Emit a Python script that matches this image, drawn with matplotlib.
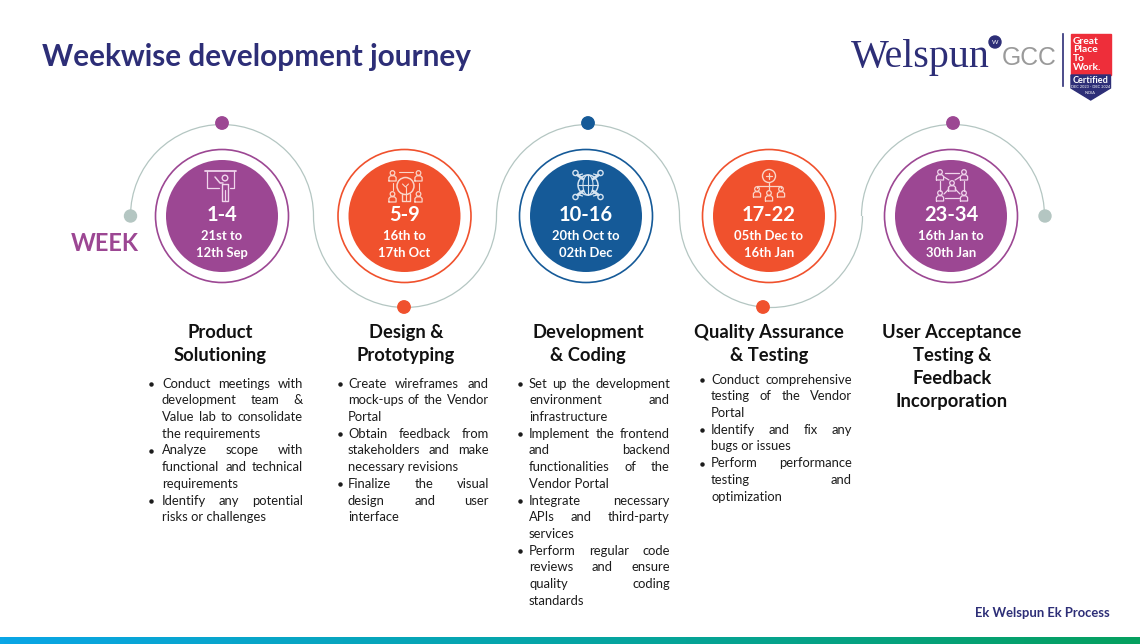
import numpy as np
import matplotlib
matplotlib.use("Agg")
import matplotlib.pyplot as plt
from matplotlib.patches import Circle, Arc, Rectangle, Polygon
from matplotlib.colors import LinearSegmentedColormap

plt.rcParams["font.family"] = ["Lato", "DejaVu Sans"]

PURPLE = "#9C4793"
ORANGE = "#F0512D"
BLUE = "#155A98"
NAVY = "#2D2E77"
GREY = "#B4C6C2"

# data
weeks = ["1-4", "5-9", "10-16", "17-22", "23-34"]
dates = [("21st to", "12th Sep"), ("16th to", "17th Oct"), ("20th Oct to", "02th Dec"),
         ("05th Dec to", "16th Jan"), ("16th Jan to", "30th Jan")]
colors = [PURPLE, ORANGE, BLUE, ORANGE, PURPLE]
centers = [222, 404.5, 586, 769, 951]
dots_x = [222, 404, 588, 763, 953]
arc_centers = [222, 405, 588, 771, 953]
titles = [["Product", "Solutioning"],
          ["Design &", "Prototyping"],
          ["Development", "& Coding"],
          ["Quality Assurance", "& Testing"],
          ["User Acceptance", "Testing &", "Feedback", "Incorporation"]]
title_x = [220, 406, 588, 769, 952]

bullets1 = [["Conduct meetings with", "development team &", "Value lab to consolidate", "the requirements"],
            ["Analyze scope with", "functional and technical", "requirements"],
            ["Identify any potential", "risks or challenges"]]
bullets2 = [["Create wireframes and", "mock-ups of the Vendor", "Portal"],
            ["Obtain feedback from", "stakeholders and make", "necessary revisions"],
            ["Finalize the visual", "design and user", "interface"]]
bullets3 = [["Set up the development", "environment and", "infrastructure"],
            ["Implement the frontend", "and backend", "functionalities of the", "Vendor Portal"],
            ["Integrate necessary", "APIs and third-party", "services"],
            ["Perform regular code", "reviews and ensure", "quality coding", "standards"]]
bullets4 = [["Conduct comprehensive", "testing of the Vendor", "Portal"],
            ["Identify and fix any", "bugs or issues"],
            ["Perform performance", "testing and", "optimization"]]
columns = [bullets1, bullets2, bullets3, bullets4]
col_left = [162, 348, 529, 711]
bullet_x = [151, 340, 520, 702]
col_top = [383.5, 383.5, 383.5, 379.5]
col_width = 141
line_h = 16.72

fig = plt.figure(figsize=(11.4, 6.44), dpi=100)
ax = fig.add_axes([0, 0, 1, 1])
ax.set_xlim(0, 1140)
ax.set_ylim(644, 0)
ax.axis("off")


def justified(line, x0, y, width, stretch):
    # place word by word so the line fills the column like the slide does
    if not stretch or " " not in line:
        ax.text(x0, y, line, fontsize=9.4, color="#1c1c1c", va="center")
        return
    words = line.split(" ")
    r = fig.canvas.get_renderer()
    ws = []
    for w in words:
        t = ax.text(0, 0, w, fontsize=9.4)
        ws.append(t.get_window_extent(r).width)
        t.remove()
    gap = (width - sum(ws)) / (len(words) - 1)
    x = x0
    for w, wd in zip(words, ws):
        ax.text(x, y, w, fontsize=9.4, color="#1c1c1c", va="center")
        x += wd + gap


def line(xs, ys, c, lw=1.0):
    ax.plot(xs, ys, color=c, lw=lw, zorder=4, solid_capstyle="round")


def ring(x, y, r, c, lw=1.0):
    ax.add_patch(Circle((x, y), r, fc="none", ec=c, lw=lw, zorder=4))


def person(x, y, c):
    # little head and shoulders, y is the middle of the figure
    ring(x, y - 3, 2.3, c, 0.9)
    line([x - 3.6, x - 3.6, x - 2, x + 2, x + 3.6, x + 3.6, x - 3.6],
         [y + 5, y + 1.5, y - 0.2, y - 0.2, y + 1.5, y + 5, y + 5], c, 0.9)


def icon_board(cx, c):
    line([cx - 17, cx + 14], [171, 171], c, 1.3)
    line([cx - 15, cx - 15, cx - 3], [171, 188, 188], c, 0.9)
    line([cx + 12, cx + 12, cx + 8], [171, 188, 188], c, 0.9)
    ring(cx + 3, 178, 2.8, c, 1.0)
    line([cx - 7, cx - 2, cx + 1], [177, 183, 183], c, 1.1)
    line([cx, cx, cx + 6, cx + 6, cx], [184, 201, 201, 184, 184], c, 1.0)
    line([cx + 3, cx + 3], [190, 201], c, 0.9)


def icon_bulb(cx, c):
    ring(cx + 1, 186, 8.5, c, 1.1)
    line([cx - 3, cx - 3, cx + 5, cx + 5], [194, 201, 201, 194], c, 1.0)
    line([cx - 2, cx + 1, cx + 4], [184, 187, 184], c, 0.8)
    line([cx + 1, cx + 1], [187, 201], c, 0.8)
    for sx in (-12, 14):
        person(cx + sx, 176, c)
        person(cx + sx, 197, c)
        line([cx + sx, cx + sx], [183, 190], c, 0.8)
    line([cx - 6, cx + 8], [172, 172], c, 0.8)


def icon_globe(cx, c):
    cx = cx + 2
    ring(cx, 185, 10, c, 1.1)
    line([cx - 10, cx + 10], [185, 185], c, 0.8)
    line([cx, cx], [175, 195], c, 0.8)
    ax.add_patch(Arc((cx, 185), 10, 20, color=c, lw=0.8, zorder=4))
    for sx in (-1, 1):
        for sy in (-1, 1):
            ring(cx + sx * 12.5, 185 + sy * 12, 2.6, c, 1.0)
            line([cx + sx * 5, cx + sx * 10.5], [185 + sy * 6, 185 + sy * 10], c, 2.0)
            line([cx + sx * 5.5, cx + sx * 9], [185 + sy * 11, 185 + sy * 10], c, 0.9)


def icon_tree(cx, c):
    ring(cx, 176, 6.5, c, 1.0)
    line([cx - 3, cx + 3], [176, 176], c, 0.9)
    line([cx, cx], [173, 179], c, 0.9)
    line([cx, cx], [183, 190], c, 0.9)
    line([cx - 12, cx - 12, cx + 12, cx + 12], [188, 186, 186, 188], c, 0.9)
    person(cx - 12, 192, c)
    person(cx, 196, c)
    person(cx + 12, 192, c)


def icon_network(cx, c):
    cx = cx + 1
    for sx in (-1, 1):
        person(cx + sx * 12, 175, c)
        person(cx + sx * 12, 196, c)
        line([cx + sx * 12, cx + sx * 12], [181, 191], c, 0.9)
        line([cx + sx * 3, cx + sx * 8], [189, 194], c, 0.9)
        line([cx + sx * 3, cx + sx * 8], [180, 177], c, 0.9)
    person(cx, 186, c)
    line([cx - 7, cx + 7], [173, 173], c, 0.9)
    line([cx - 7, cx + 7], [198, 198], c, 0.9)


icons = [icon_board, icon_bulb, icon_globe, icon_tree, icon_network]
icon_colors = ["#F0D5EC", "#FAD5C8", "#D5E3F0", "#FAD5C8", "#F0D5EC"]

# connecting path
cy = 216
rad = 91.5
for i, cx in enumerate(arc_centers):
    if i % 2 == 0:
        ax.add_patch(Arc((cx, cy), 2 * rad, 2 * rad, theta1=180, theta2=360, color=GREY, lw=0.9))
    else:
        ax.add_patch(Arc((cx, cy), 2 * rad, 2 * rad, theta1=0, theta2=180, color=GREY, lw=0.9))
ax.add_patch(Circle((130.5, 216), 6, color=GREY, zorder=3))
ax.add_patch(Circle((1045, 216), 6, color=GREY, zorder=3))

for i in range(5):
    c = colors[i]
    cx = centers[i]
    ax.add_patch(Circle((cx, 216), 66.5, fc="white", ec=c, lw=1.2, zorder=2))
    ax.add_patch(Circle((cx, 216), 56, fc=c, ec="none", zorder=2))
    dy = 123 if i % 2 == 0 else 307
    ax.add_patch(Circle((dots_x[i], dy), 6.2, color=c, zorder=3))
    ax.text(cx, 215, weeks[i], color="white", fontsize=14.5, fontweight="bold", ha="center", va="center", zorder=4)
    ax.text(cx, 236, dates[i][0], color="white", fontsize=9.4, fontweight="bold", ha="center", va="center", zorder=4)
    ax.text(cx, 252.5, dates[i][1], color="white", fontsize=9.4, fontweight="bold", ha="center", va="center", zorder=4)
    icons[i](cx, icon_colors[i])

# headings
for x, tl in zip(title_x, titles):
    for j, t in enumerate(tl):
        ax.text(x, 332 + j * 23.2, t, fontsize=13.2, fontweight="bold", color="#111111", ha="center", va="center")

# bullet lists
for col, x0, bx, top in zip(columns, col_left, bullet_x, col_top):
    n = 0
    for para in col:
        ax.plot([bx], [top + n * line_h + 0.5], marker="o", ms=2.2, color="#1c1c1c")
        for k, txt in enumerate(para):
            justified(txt, x0, top + n * line_h, col_width, k < len(para) - 1)
            n += 1

ax.text(42, 57, "Weekwise development journey", fontsize=21.4, fontweight="bold", color=NAVY, va="center")
ax.text(71, 243.5, "WEEK", fontsize=17, fontweight="bold", color=PURPLE, va="center")
ax.text(1110, 613, "Ek Welspun Ek Process", fontsize=9.4, fontweight="bold", color=NAVY, ha="right", va="center")

# logo
ax.text(851, 57, "Welspun", fontsize=28.8, family="Liberation Serif", color=NAVY, va="center")
ax.add_patch(Circle((995, 42), 6, color=NAVY))
ax.text(995, 42, "W", fontsize=4.5, color="white", ha="center", va="center")
ax.text(1002, 58, "GCC", fontsize=17.8, family="Liberation Sans", color="#9A9A9A", va="center")
ax.plot([1063, 1063], [34, 86], color=NAVY, lw=1.2)
ax.add_patch(Rectangle((1071, 34), 39.5, 41, color="#EE2E3A"))
ax.add_patch(Polygon([(1071, 75), (1110.5, 75), (1110.5, 88), (1090.7, 100), (1071, 88)], color=NAVY))
for j, t in enumerate(["Great", "Place", "To", "Work."]):
    ax.text(1073, 41 + j * 8.7, t, fontsize=7.4, fontweight="bold", color="white", va="center")
ax.text(1090.5, 80, "Certified", fontsize=6.6, fontweight="bold", color="white", ha="center", va="center")
ax.text(1090.5, 87, "DEC 2023 - DEC 2024", fontsize=2.8, color="white", ha="center", va="center")
ax.text(1090.5, 93, "INDIA", fontsize=2.8, color="white", ha="center", va="center")

# bottom strip
strip = LinearSegmentedColormap.from_list("strip", ["#0AA6E6", "#05A5A5", "#06A05F"])
ax.imshow(np.linspace(0, 1, 256).reshape(1, -1), cmap=strip, extent=[0, 1140, 644, 637.5], aspect="auto", zorder=1)
ax.set_xlim(0, 1140)
ax.set_ylim(644, 0)

fig.savefig("out.png", dpi=100)
